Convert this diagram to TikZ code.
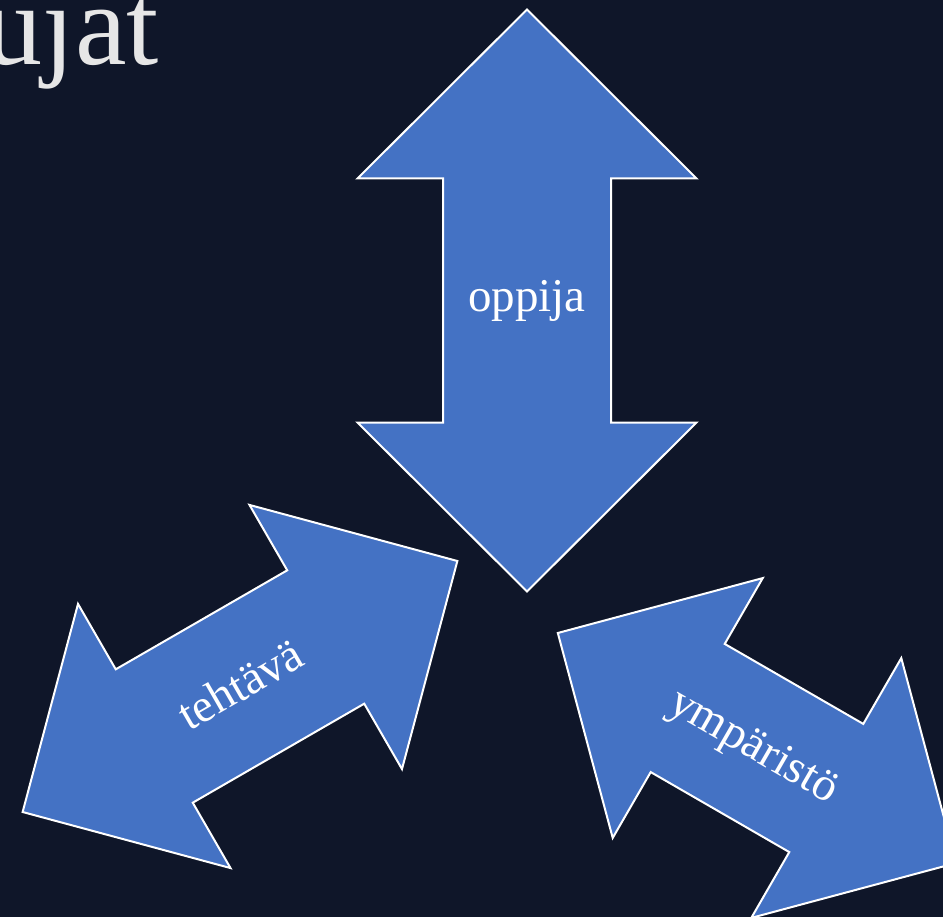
\documentclass[tikz,border=0pt]{standalone}
\usepackage{fontspec}
\setmainfont{Liberation Serif}
\definecolor{bgnavy}{HTML}{0F1629}
\definecolor{arrowblue}{HTML}{4472C4}
\definecolor{titlegray}{HTML}{E6E6E6}
\tikzset{
  arrowshape/.style={fill=arrowblue, draw=white, line width=2pt, line join=miter},
  arrowlabel/.style={text=white, inner sep=0pt, font=\fontsize{47}{52}\selectfont},
  titletext/.style={text=titlegray, inner sep=0pt, font=\fontsize{116}{120}\selectfont}
}
% #1 center, #2 angle, #3 half shaft length, #4 head length, #5 head half width, #6 shaft half width
\newcommand\dblarrowshape[6]{%
  \begin{scope}[shift={#1}, rotate=#2]
    \draw[arrowshape] (-#3-#4,0) -- (-#3,#5) -- (-#3,#6) -- (#3,#6) -- (#3,#5) -- (#3+#4,0)
      -- (#3,-#5) -- (#3,-#6) -- (-#3,-#6) -- (-#3,-#5) -- cycle;
  \end{scope}}
\begin{document}
\begin{tikzpicture}[x=1pt,y=1pt]
  \useasboundingbox (0,0) rectangle (943,-917);
  \fill[bgnavy] (0,0) rectangle (943,-917);
  \clip (0,0) rectangle (943,-917);
  % title fragment
  \node[titletext, anchor=base east] (title) at (159,-65) {ujat};
  % vertical arrow
  \dblarrowshape{(527,-300.5)}{90}{122}{169}{169.5}{84}
  \node[arrowlabel] (oppija) at (527,-301) {oppija};
  % left arrow
  \dblarrowshape{(240,-686.5)}{30}{99}{152}{152.5}{77}
  \node[arrowlabel, rotate=30] (tehtava) at (240,-684) {tehtävä};
  % right arrow
  \dblarrowshape{(757,-748)}{-30}{80}{150}{150}{74}
  \node[arrowlabel, rotate=-30] (ymparisto) at (753,-748) {ympäristö};
\end{tikzpicture}
\end{document}
